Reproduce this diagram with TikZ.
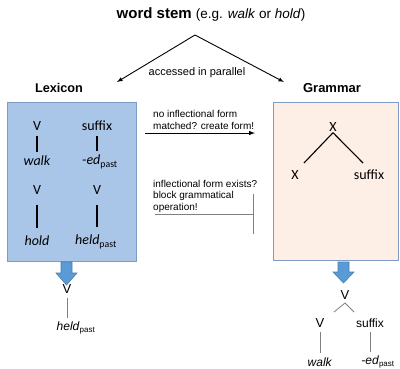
\documentclass[tikz,border=0pt]{standalone}
\usepackage{fontspec}
\setmainfont{Liberation Sans}
\newfontfamily\calfont{Carlito}
\usetikzlibrary{arrows.meta}

\definecolor{lexfill}{HTML}{A9C5E8}
\definecolor{boxline}{HTML}{7D9BC4}
\definecolor{gramfill}{HTML}{FDEEE6}
\definecolor{blockblue}{HTML}{5B9BD5}

\tikzset{
  tree/.style={font=\calfont\fontsize{14}{14}\selectfont, inner sep=1pt},
  plain/.style={font=\fontsize{12}{12}\selectfont, inner sep=1pt},
  note/.style={font=\fontsize{10}{11.5}\selectfont, align=left, inner sep=0pt},
  treeline/.style={line width=1.2pt, shorten <=4pt, shorten >=3pt},
  thinline/.style={gray, line width=0.8pt},
  blockarrow/.style={fill=blockblue, draw=blockblue!80!black, line width=0.6pt},
}

\begin{document}
\begin{tikzpicture}[x=1pt,y=-1pt]
 \useasboundingbox (0,0) rectangle (400,368);
 % title and split
 \node (stem) at (211,14) {\fontsize{15}{15}\selectfont\textbf{word stem} \fontsize{13.5}{13.5}\selectfont(e.g. \textit{walk} or \textit{hold})};
 \coordinate (apex) at (195,35);
 \coordinate (lexend) at (117,82);
 \coordinate (gramend) at (284,82);
 \draw[-latex, line width=0.9pt] (apex) -- (lexend);
 \draw[-latex, line width=0.9pt] (apex) -- (gramend);
 \node[font=\fontsize{11}{11}\selectfont] (par) at (197,73) {accessed in parallel};
 \node[font=\bfseries\fontsize{12.7}{12.7}\selectfont] (lextitle) at (59,88) {Lexicon};
 \node[font=\bfseries\fontsize{13}{13}\selectfont] (gramtitle) at (332,88) {Grammar};

 % the two boxes
 \node[draw=boxline, fill=lexfill, line width=1pt, minimum width=129, minimum height=159] (lex) at (71.5,181.5) {};
 \node[draw=boxline, fill=gramfill, line width=1pt, minimum width=125, minimum height=158] (gram) at (336,181) {};

 % lexicon entries
 \node[tree] (v1) at (37,126) {V};
 \node[tree] (walk1) at (37,161) {\textit{walk}};
 \node[tree] (sfx1) at (97,126) {suffix};
 \node[tree] (ed1) at (100,162) {\textit{-ed}\textsubscript{past}};
 \node[tree] (v2) at (37,190) {V};
 \node[tree] (hold1) at (37,241) {\textit{hold}};
 \node[tree] (v3) at (97,190) {V};
 \node[tree] (held1) at (96,242) {\textit{held}\textsubscript{past}};
 \draw[treeline] (v1) -- (walk1);
 \draw[treeline] (sfx1.south) -- (sfx1.south |- ed1.north);
 \draw[treeline, shorten <=9pt, shorten >=7pt] (v2) -- (hold1);
 \draw[treeline, shorten <=9pt, shorten >=7pt] (v3.south) -- (v3.south |- held1.north);

 % grammar rule
 \node[tree] (xtop) at (333,127) {X};
 \node[tree] (xl) at (295,175) {X};
 \node[tree] (xs) at (369,175) {suffix};
 \coordinate (xlend) at (304,163);
 \coordinate (xsend) at (363,163);
 \draw[line width=1.1pt] (xtop.south) -- (xlend);
 \draw[line width=1.1pt] (xtop.south) -- (xsend);

 % middle notes
 \node[note, anchor=west] (create) at (153,120) {no inflectional form\\matched? create form!};
 \coordinate (crstart) at (145,133);
 \coordinate (crend) at (255,133);
 \draw[-latex, line width=1pt] (crstart) -- (crend);
 \node[note, anchor=west] (block) at (153,196) {inflectional form exists?\\block grammatical\\operation!};
 \coordinate (blkstart) at (155,214);
 \coordinate (blkend) at (254,214);
 \draw[thinline, -{Bar[width=40pt]}] (blkstart) -- (blkend);

 % outputs
 \draw[blockarrow] (61,262) -- (72,262) -- (72,273) -- (77,273) -- (66.5,285) -- (56,273) -- (61,273) -- cycle;
 \draw[blockarrow] (338,262) -- (349,262) -- (349,272) -- (354,272) -- (343.5,283) -- (333,272) -- (338,272) -- cycle;

 \node[plain, font=\fontsize{13}{13}\selectfont] (vout) at (67,289) {V};
 \node[plain] (heldout) at (76,328) {\textit{held}\textsubscript{past}};
 \draw[thinline, shorten <=3pt, shorten >=3pt] (vout) -- (vout |- heldout.north);

 \node[plain, font=\fontsize{13}{13}\selectfont] (vg) at (345,295) {V};
 \node[plain, font=\fontsize{13}{13}\selectfont] (vgl) at (320,323) {V};
 \node[plain] (sfxg) at (370,323) {suffix};
 \node[plain] (walkg) at (320,362) {\textit{walk}};
 \node[plain] (edg) at (378,362) {\textit{-ed}\textsubscript{past}};
 \coordinate (forktop) at (345,303);
 \coordinate (forkl) at (334,312);
 \coordinate (forkr) at (354,312);
 \draw[thinline] (forkl) -- (forktop) -- (forkr);
 \draw[thinline, shorten <=3pt, shorten >=3pt] (vgl) -- (walkg);
 \draw[thinline, shorten <=3pt, shorten >=3pt] (sfxg.south) -- (sfxg.south |- edg.north);
\end{tikzpicture}
\end{document}
